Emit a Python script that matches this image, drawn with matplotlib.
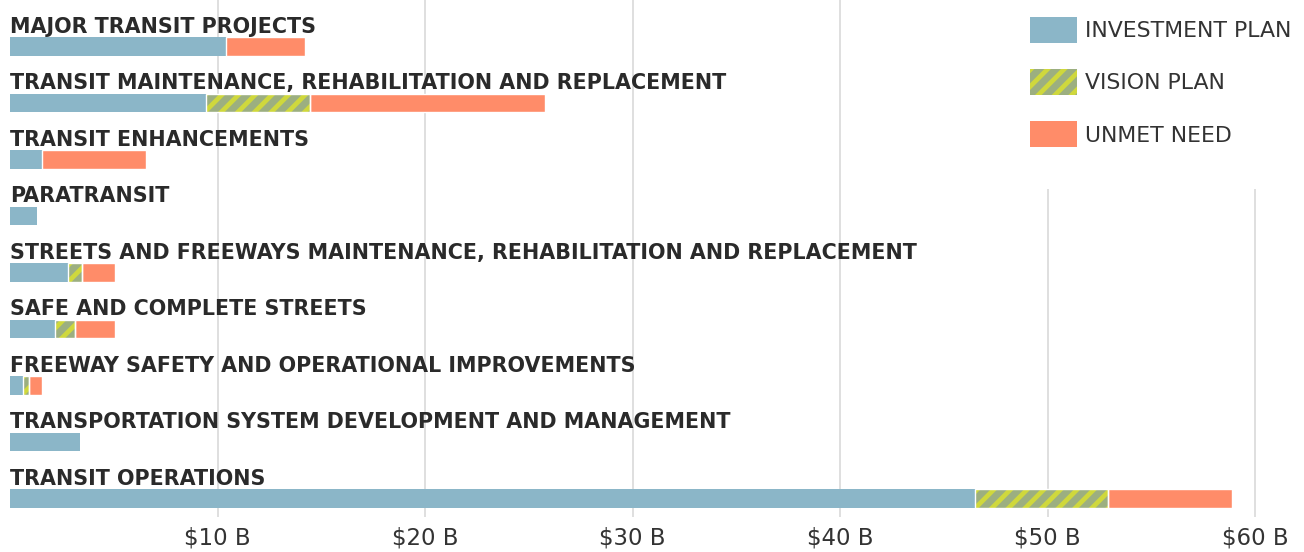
import matplotlib
matplotlib.use("Agg")
import matplotlib.pyplot as plt
import numpy as np
from matplotlib.patches import Patch, Rectangle

categories = ["MAJOR TRANSIT PROJECTS",
              "TRANSIT MAINTENANCE, REHABILITATION AND REPLACEMENT",
              "TRANSIT ENHANCEMENTS",
              "PARATRANSIT",
              "STREETS AND FREEWAYS MAINTENANCE, REHABILITATION AND REPLACEMENT",
              "SAFE AND COMPLETE STREETS",
              "FREEWAY SAFETY AND OPERATIONAL IMPROVEMENTS",
              "TRANSPORTATION SYSTEM DEVELOPMENT AND MANAGEMENT",
              "TRANSIT OPERATIONS"]

# billions of dollars
investment = [10.4, 9.45, 1.55, 1.3, 2.8, 2.17, 0.63, 3.37, 46.5]
vision = [0.0, 5.0, 0.0, 0.0, 0.67, 0.96, 0.29, 0.0, 6.4]
unmet = [3.8, 11.35, 5.0, 0.0, 1.59, 1.93, 0.62, 0.0, 6.0]

ticks = [10, 20, 30, 40, 50, 60]
tick_labels = ["$10 B", "$20 B", "$30 B", "$40 B", "$50 B", "$60 B"]

c_inv = "#8bb6c8"
c_vis = "#9caf80"
c_hatch = "#cfd83c"
c_unmet = "#ff8c69"
txt = "#2a2a2a"

plt.rcParams["hatch.linewidth"] = 3.4

W, H = 1304, 552
fig = plt.figure(figsize=(W / 100, H / 100), dpi=100)
ax = fig.add_axes([10 / W, 35 / H, 1 - 10 / W, 1 - 35 / H])

y = np.arange(len(categories))
inv = np.array(investment)
vis = np.array(vision)
unm = np.array(unmet)
h = 0.336

ax.barh(y, inv, height=h, color=c_inv, linewidth=0, zorder=2)
ax.barh(y, vis, left=inv, height=h, facecolor=c_vis, edgecolor=c_hatch,
        hatch="//", linewidth=0, zorder=2)
ax.barh(y, unm, left=inv + vis, height=h, color=c_unmet, linewidth=0, zorder=2)
# thin white separators between segments
for lefts, w in [(inv, vis), (inv + vis, unm)]:
    m = w > 0
    ax.barh(y[m], w[m], left=lefts[m], height=h, facecolor="none",
            edgecolor="white", linewidth=1.0, zorder=3)

for i, name in enumerate(categories):
    ax.text(0, i - h / 2 - 0.075, name, fontsize=14.9, fontweight="bold",
            color=txt, va="baseline", ha="left", zorder=4)

ax.set_xlim(0, (W - 10) / 20.75)
ax.set_ylim(8 + 18.5 / 56.5, -46.5 / 56.5)
ax.set_yticks([])
ax.set_xticks(ticks)
ax.set_xticklabels(tick_labels, fontsize=16.5, color="#333333")
ax.tick_params(axis="x", length=0, pad=7)
ax.grid(axis="x", color="#d9d9d9", linewidth=1.2)
ax.set_axisbelow(True)
for s in ax.spines.values():
    s.set_visible(False)

# white area behind the legend hides the gridlines there
ax.add_patch(Rectangle((1015 / W, 1 - 189 / H), (W - 1015) / W, 189 / H,
                       transform=fig.transFigure, facecolor="white",
                       edgecolor="none", zorder=1.5))

handles = [Patch(facecolor=c_inv, linewidth=0),
           Patch(facecolor=c_vis, edgecolor=c_hatch, hatch="//", linewidth=0),
           Patch(facecolor=c_unmet, linewidth=0)]
leg = ax.legend(handles, ["INVESTMENT PLAN", "VISION PLAN", "UNMET NEED"],
                loc="upper left", bbox_to_anchor=(1030 / W, 1 - 17 / H),
                bbox_transform=fig.transFigure, frameon=False, borderpad=0,
                borderaxespad=0, handlelength=2.15, handleheight=1.45,
                handletextpad=0.35, labelspacing=1.19, fontsize=15.8)
for t in leg.get_texts():
    t.set_color("#333333")

fig.savefig("out.png", dpi=100)
